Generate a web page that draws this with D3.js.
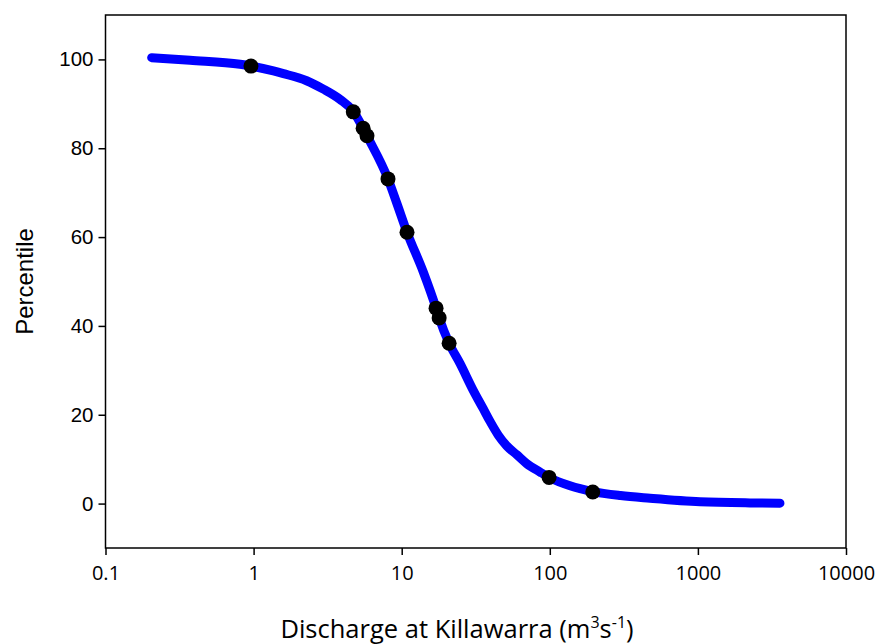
<!DOCTYPE html>
<html>
<head>
<meta charset="utf-8">
<script src="https://cdn.jsdelivr.net/npm/d3@7"></script>
<style>
  body { margin: 0; background: #fff; }
  svg { display: block; }
</style>
</head>
<body>
<div id="chart"></div>
<script>
// flow duration curve (discharge m3/s, percentile)
const curveQ = [0.205, 0.372, 0.81, 0.956, 1.36, 1.59, 2.28, 2.96, 3.83, 4.71, 5.49, 5.83, 8.08, 9.25, 10.86, 14.0, 17.06, 17.9, 20.9, 24.8, 30.4, 35.6, 39.5, 44.9, 51.2, 59.8, 69.8, 85.9, 98.9, 137, 195, 300, 475, 1033, 2249, 3582];
const curvePct = [100.4, 99.8, 98.9, 98.5, 97.4, 96.8, 95.2, 93.3, 91.0, 88.3, 84.5, 82.8, 73.1, 67.7, 61.1, 52.1, 44.0, 41.8, 36.1, 31.5, 25.5, 21.3, 18.5, 15.4, 13.0, 11.0, 9.0, 7.1, 5.9, 4.0, 2.7, 1.8, 1.2, 0.4, 0.15, 0.1];

// sampled discharges (black dots)
const sampleQ = [0.96, 4.71, 5.49, 5.83, 8.08, 10.86, 17.06, 17.9, 20.9, 98.9, 195];
const samplePct = [98.5, 88.2, 84.5, 82.8, 73.1, 61.1, 44.0, 41.8, 36.1, 5.9, 2.6];

const xTicks = [0.1, 1, 10, 100, 1000, 10000];
const yTicks = [0, 20, 40, 60, 80, 100];

const width = 875, height = 644;
const margin = { top: 15, right: 29, bottom: 96, left: 105.5 };
const innerW = width - margin.left - margin.right;
const innerH = height - margin.top - margin.bottom;

const svg = d3.select("#chart").append("svg")
  .attr("width", width)
  .attr("height", height);

const g = svg.append("g")
  .attr("transform", `translate(${margin.left},${margin.top})`);

const x = d3.scaleLog().domain([0.1, 10000]).range([0, innerW]);
const y = d3.scaleLinear().domain([-10, 110]).range([innerH, 0]);

const curve = curveQ.map((q, i) => ({ q, p: curvePct[i] }));
const samples = sampleQ.map((q, i) => ({ q, p: samplePct[i] }));

// blue duration curve
const line = d3.line()
  .x((d) => x(d.q))
  .y((d) => y(d.p))
  .curve(d3.curveMonotoneX);

g.append("path")
  .attr("d", line(curve))
  .attr("fill", "none")
  .attr("stroke", "#0000ff")
  .attr("stroke-width", 9)
  .attr("stroke-linecap", "round")
  .attr("stroke-linejoin", "round");

g.selectAll("circle.sample")
  .data(samples)
  .join("circle")
  .attr("class", "sample")
  .attr("cx", (d) => x(d.q))
  .attr("cy", (d) => y(d.p))
  .attr("r", 7.5)
  .attr("fill", "#000");

// frame
g.append("rect")
  .attr("width", innerW).attr("height", innerH)
  .attr("fill", "none").attr("stroke", "#000").attr("stroke-width", 1.5);

// axes
const xAxis = g.append("g")
  .attr("transform", `translate(0,${innerH})`)
  .call(d3.axisBottom(x).tickValues(xTicks).tickFormat(d3.format("~g")).tickSize(7).tickSizeOuter(0));
xAxis.select(".domain").remove();
xAxis.selectAll("line").attr("stroke-width", 1.5);
xAxis.selectAll("text")
  .attr("font-family", "'Open Sans', 'Noto Sans', sans-serif")
  .attr("font-size", "20px")
  .attr("fill", "#000")
  .attr("y", 14)
  .attr("dy", "0.92em");

const yAxis = g.append("g")
  .call(d3.axisLeft(y).tickValues(yTicks).tickSize(7).tickSizeOuter(0));
yAxis.select(".domain").remove();
yAxis.selectAll("line").attr("stroke-width", 1.5);
yAxis.selectAll("text")
  .attr("font-family", "'Liberation Sans', Arial, sans-serif")
  .attr("font-size", "20.5px")
  .attr("fill", "#000")
  .attr("x", -12);

// axis titles
svg.append("text")
  .attr("x", 24)
  .attr("y", margin.top + innerH / 2)
  .attr("transform", `rotate(-90, 24, ${margin.top + innerH / 2})`)
  .attr("text-anchor", "middle")
  .attr("dominant-baseline", "central")
  .attr("font-family", "'Liberation Sans', Arial, sans-serif")
  .attr("font-size", "24px")
  .text("Percentile");

const title = svg.append("text")
  .attr("x", (279 + 635) / 2)
  .attr("y", 638)
  .attr("text-anchor", "middle")
  .attr("font-family", "'Open Sans', 'Noto Sans', sans-serif")
  .attr("font-size", "25.5px");
title.append("tspan").text("Discharge at Killawarra (m");
title.append("tspan").attr("font-size", "16px").attr("dy", -10).text("3");
title.append("tspan").attr("dy", 10).text("s");
title.append("tspan").attr("font-size", "16px").attr("dy", -10).text("-1");
title.append("tspan").attr("dy", 10).text(")");
</script>
</body>
</html>
